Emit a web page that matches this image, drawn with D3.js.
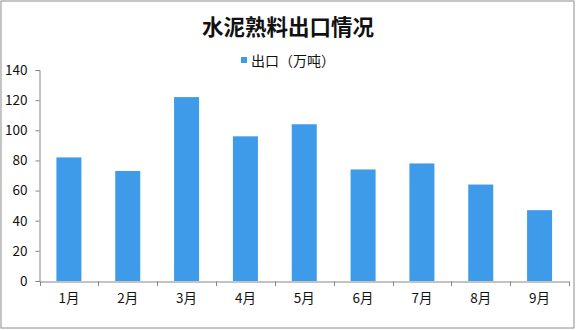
<!DOCTYPE html>
<html><head><meta charset="utf-8">
<script src="https://cdn.jsdelivr.net/npm/d3@7"></script>
<style>body{margin:0;background:#fff}svg{display:block}</style>
</head><body>
<script>
const title = "水泥熟料出口情况";
const seriesName = "出口（万吨）";
const categories = ["1月","2月","3月","4月","5月","6月","7月","8月","9月"];
const values = [82, 73, 122, 96, 104, 74, 78, 64, 47];
const yTicks = [0, 20, 40, 60, 80, 100, 120, 140];

const W = 576, H = 330;
const font = "'Noto Sans CJK SC', 'Noto Sans', sans-serif";
const barColor = "#3d9be9";
const axisColor = "#868686";

const svg = d3.select("body").append("svg").attr("width", W).attr("height", H);
svg.append("rect").attr("x", 1).attr("y", 1).attr("width", 573).attr("height", 327)
  .attr("fill", "#fff").attr("stroke", "#8c8c8c").attr("stroke-width", 1);

const x = d3.scaleBand().domain(categories).range([39.5, 569]).paddingInner(0.575).paddingOuter(0.2875);
const y = d3.scaleLinear().domain([0, 140]).range([281, 70]);

// bars
svg.append("g").selectAll("rect").data(values).join("rect")
  .attr("x", (d, i) => x(categories[i]))
  .attr("y", d => y(d))
  .attr("width", x.bandwidth())
  .attr("height", d => y(0) - y(d))
  .attr("fill", barColor);

// y axis
const yAxis = svg.append("g").attr("transform", "translate(39.5,0)")
  .call(d3.axisLeft(y).tickValues(yTicks).tickSize(4).tickPadding(8));
yAxis.select(".domain").attr("stroke", axisColor);
yAxis.selectAll(".tick line").attr("stroke", axisColor);
yAxis.selectAll("text").attr("font-family", font).attr("font-size", 13.5).attr("fill", "#111");

// x axis
const xAxis = svg.append("g").attr("transform", "translate(0,281.5)")
  .call(d3.axisBottom(x).tickSize(0).tickPadding(12).tickSizeOuter(0));
xAxis.select(".domain").attr("stroke", axisColor);
xAxis.selectAll("text").attr("font-family", font).attr("font-size", 13.5).attr("fill", "#111");
// band boundary ticks
const step = x.step();
const bounds = d3.range(categories.length + 1).map(i => 39.5 + i * step);
svg.append("g").selectAll("line").data(bounds).join("line")
  .attr("x1", d => Math.round(d) + 0.5).attr("x2", d => Math.round(d) + 0.5)
  .attr("y1", 281.5).attr("y2", 286).attr("stroke", axisColor);

// title
svg.append("text").attr("x", 288).attr("y", 35).attr("text-anchor", "middle")
  .attr("font-family", font).attr("font-weight", "bold").attr("font-size", 21.5)
  .attr("fill", "#111").text(title);

// legend
const lg = svg.append("g");
lg.append("rect").attr("x", 241).attr("y", 57).attr("width", 6).attr("height", 6).attr("fill", barColor);
lg.append("text").attr("x", 251).attr("y", 65.5).attr("font-family", font).attr("font-size", 14)
  .attr("fill", "#111").text(seriesName);
</script>
</body></html>
